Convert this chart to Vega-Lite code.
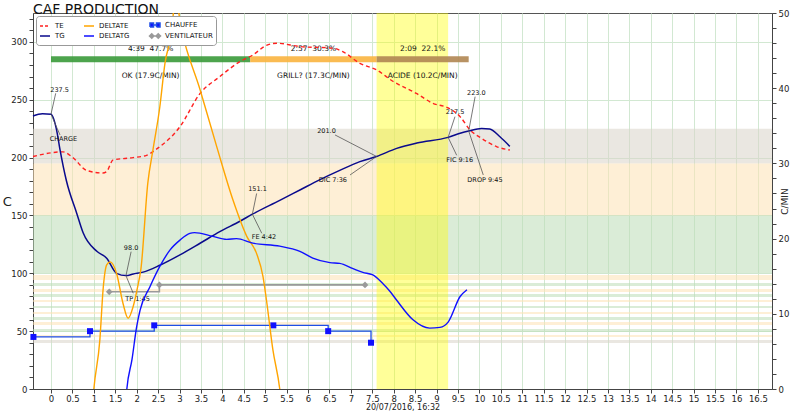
{
  "$schema": "https://vega.github.io/schema/vega-lite/v6.json",
  "width": 739,
  "height": 376,
  "autosize": {"type": "none"},
  "padding": {"left": 33, "top": 13, "right": 28, "bottom": 23},
  "title": {"text": "CAF PRODUCTION", "anchor": "start", "frame": "group", "fontSize": 14, "fontWeight": "normal", "offset": -2, "dy": 6, "color": "#111"},
  "config": {
    "font": "DejaVu Sans",
    "view": {"stroke": "#555"},
    "axis": {"labelFontSize": 8.5, "labelColor": "#222", "domainColor": "#444", "tickColor": "#444", "gridColor": "#d2e8d2", "labelOverlap": false, "labelFlush": false, "titleFontWeight": "normal", "titleColor": "#222"}
  },
  "datasets": {
    "bands": [
      {"lo": 195, "hi": 225, "zone": "high"},
      {"lo": 150, "hi": 195, "zone": "mid"},
      {"lo": 100, "hi": 150, "zone": "low"},
      {"lo": 94.2, "hi": 98.6, "zone": "mid"},
      {"lo": 89, "hi": 91.6, "zone": "low"},
      {"lo": 83.9, "hi": 86.5, "zone": "mid"},
      {"lo": 79.5, "hi": 82.1, "zone": "low"},
      {"lo": 75.2, "hi": 77, "zone": "mid"},
      {"lo": 70, "hi": 71.8, "zone": "low"},
      {"lo": 64.8, "hi": 66.6, "zone": "mid"},
      {"lo": 59.7, "hi": 62.2, "zone": "low"},
      {"lo": 55.3, "hi": 57.9, "zone": "mid"},
      {"lo": 49.3, "hi": 51.9, "zone": "low"},
      {"lo": 45, "hi": 46.7, "zone": "mid"},
      {"lo": 39.8, "hi": 42.4, "zone": "high"}
    ],
    "fc": [{"start": 7.6, "end": 9.27}],
    "phases": [
      {"phase": "OK", "start": 0, "end": 4.65},
      {"phase": "GRILL?", "start": 4.65, "end": 7.6},
      {"phase": "ACIDE", "start": 7.6, "end": 9.75}
    ],
    "phaseLabels": [
      {"time": 2.325, "value": 294, "label": "4:39\u00a0\u00a047.7%"},
      {"time": 2.325, "value": 270.5, "label": "OK (17.9C/MIN)"},
      {"time": 6.125, "value": 294, "label": "2:57\u00a0\u00a030.3%"},
      {"time": 6.125, "value": 270.5, "label": "GRILL? (17.3C/MIN)"},
      {"time": 8.675, "value": 294, "label": "2:09\u00a0\u00a022.1%"},
      {"time": 8.675, "value": 270.5, "label": "ACIDE (10.2C/MIN)"}
    ],
    "heater": [
      {"series": "CHAUFFE", "time": -0.41, "value": 45},
      {"series": "CHAUFFE", "time": 0.91, "value": 50},
      {"series": "CHAUFFE", "time": 2.41, "value": 55},
      {"series": "CHAUFFE", "time": 5.19, "value": 55},
      {"series": "CHAUFFE", "time": 6.47, "value": 50},
      {"series": "CHAUFFE", "time": 7.47, "value": 40}
    ],
    "fan": [
      {"series": "VENTILATEUR", "time": 1.36, "value": 84},
      {"series": "VENTILATEUR", "time": 2.53, "value": 90},
      {"series": "VENTILATEUR", "time": 7.33, "value": 90}
    ],
    "et": [
      {"series": "TE", "time": -0.42, "value": 201},
      {"series": "TE", "time": 0.28, "value": 205},
      {"series": "TE", "time": 0.51, "value": 200},
      {"series": "TE", "time": 0.83, "value": 189},
      {"series": "TE", "time": 1.21, "value": 186.7},
      {"series": "TE", "time": 1.3, "value": 188},
      {"series": "TE", "time": 1.45, "value": 198},
      {"series": "TE", "time": 1.92, "value": 200},
      {"series": "TE", "time": 2.23, "value": 202},
      {"series": "TE", "time": 2.45, "value": 207},
      {"series": "TE", "time": 3.01, "value": 226.7},
      {"series": "TE", "time": 3.48, "value": 255.5},
      {"series": "TE", "time": 3.94, "value": 270},
      {"series": "TE", "time": 4.41, "value": 283},
      {"series": "TE", "time": 4.71, "value": 288.7},
      {"series": "TE", "time": 5.03, "value": 297},
      {"series": "TE", "time": 5.27, "value": 298.9},
      {"series": "TE", "time": 5.81, "value": 296},
      {"series": "TE", "time": 6.58, "value": 294.6},
      {"series": "TE", "time": 6.81, "value": 291.6},
      {"series": "TE", "time": 7.21, "value": 281.5},
      {"series": "TE", "time": 7.6, "value": 275.8},
      {"series": "TE", "time": 7.98, "value": 266},
      {"series": "TE", "time": 8.53, "value": 255.5},
      {"series": "TE", "time": 8.91, "value": 247},
      {"series": "TE", "time": 9.27, "value": 243},
      {"series": "TE", "time": 9.55, "value": 235.4},
      {"series": "TE", "time": 9.78, "value": 224},
      {"series": "TE", "time": 10.05, "value": 216.7},
      {"series": "TE", "time": 10.4, "value": 209.5},
      {"series": "TE", "time": 10.71, "value": 206.6}
    ],
    "bt": [
      {"series": "TG", "time": -0.42, "value": 236},
      {"series": "TG", "time": -0.2, "value": 238},
      {"series": "TG", "time": 0, "value": 237.5},
      {"series": "TG", "time": 0.13, "value": 224},
      {"series": "TG", "time": 0.21, "value": 207},
      {"series": "TG", "time": 0.36, "value": 180},
      {"series": "TG", "time": 0.6, "value": 152},
      {"series": "TG", "time": 0.75, "value": 135},
      {"series": "TG", "time": 1.07, "value": 119},
      {"series": "TG", "time": 1.3, "value": 113},
      {"series": "TG", "time": 1.53, "value": 100},
      {"series": "TG", "time": 1.75, "value": 98},
      {"series": "TG", "time": 1.92, "value": 99.4},
      {"series": "TG", "time": 2.15, "value": 101},
      {"series": "TG", "time": 2.54, "value": 107},
      {"series": "TG", "time": 3.01, "value": 116},
      {"series": "TG", "time": 3.48, "value": 126},
      {"series": "TG", "time": 3.94, "value": 136},
      {"series": "TG", "time": 4.41, "value": 145},
      {"series": "TG", "time": 4.7, "value": 151.1},
      {"series": "TG", "time": 5.34, "value": 163},
      {"series": "TG", "time": 5.81, "value": 172},
      {"series": "TG", "time": 6.28, "value": 181},
      {"series": "TG", "time": 6.74, "value": 189},
      {"series": "TG", "time": 7.21, "value": 196.5},
      {"series": "TG", "time": 7.6, "value": 201},
      {"series": "TG", "time": 8.07, "value": 208},
      {"series": "TG", "time": 8.54, "value": 212.6},
      {"series": "TG", "time": 9.27, "value": 217.5},
      {"series": "TG", "time": 9.55, "value": 221},
      {"series": "TG", "time": 9.75, "value": 223},
      {"series": "TG", "time": 10.05, "value": 225.2},
      {"series": "TG", "time": 10.24, "value": 224.7},
      {"series": "TG", "time": 10.48, "value": 218},
      {"series": "TG", "time": 10.71, "value": 209.7}
    ],
    "leaders": [
      {"time": 0.11, "value": 255.6, "time2": 0, "value2": 237.5},
      {"time": 0, "value": 237.5, "time2": 0.21, "value2": 219.6},
      {"time": 1.87, "value": 118.7, "time2": 1.75, "value2": 98},
      {"time": 1.75, "value": 98, "time2": 1.92, "value2": 82.7},
      {"time": 4.8, "value": 169, "time2": 4.7, "value2": 151.1},
      {"time": 4.7, "value": 151.1, "time2": 4.92, "value2": 134.6},
      {"time": 6.63, "value": 219.6, "time2": 7.6, "value2": 201},
      {"time": 7.6, "value": 201, "time2": 6.98, "value2": 185},
      {"time": 9.43, "value": 235.4, "time2": 9.27, "value2": 217.5},
      {"time": 9.27, "value": 217.5, "time2": 9.47, "value2": 202},
      {"time": 9.9, "value": 252.7, "time2": 9.75, "value2": 223},
      {"time": 9.75, "value": 223, "time2": 10.09, "value2": 185}
    ],
    "notes": [
      {"time": 0.2, "value": 258.5, "label": "237.5"},
      {"time": 0.29, "value": 216, "label": "CHARGE"},
      {"time": 1.87, "value": 121.5, "label": "98.0"},
      {"time": 2.02, "value": 78, "label": "TP 1:45"},
      {"time": 4.82, "value": 173, "label": "151.1"},
      {"time": 4.97, "value": 131, "label": "FE 4:42"},
      {"time": 6.43, "value": 223, "label": "201.0"},
      {"time": 6.58, "value": 180.7, "label": "DIC 7:36"},
      {"time": 9.43, "value": 239, "label": "217.5"},
      {"time": 9.54, "value": 198, "label": "FIC 9:16"},
      {"time": 9.93, "value": 255.6, "label": "223.0"},
      {"time": 10.13, "value": 181, "label": "DROP 9:45"}
    ],
    "det": [
      {"series": "DELTATE", "time": 0.97, "value": -2},
      {"series": "DELTATE", "time": 1.0, "value": 0},
      {"series": "DELTATE", "time": 1.14, "value": 6.5},
      {"series": "DELTATE", "time": 1.22, "value": 13.5},
      {"series": "DELTATE", "time": 1.3, "value": 16.5},
      {"series": "DELTATE", "time": 1.38, "value": 16.9},
      {"series": "DELTATE", "time": 1.53, "value": 15.4},
      {"series": "DELTATE", "time": 1.68, "value": 11.4},
      {"series": "DELTATE", "time": 1.8, "value": 9.4},
      {"series": "DELTATE", "time": 1.92, "value": 11},
      {"series": "DELTATE", "time": 2.02, "value": 13.5},
      {"series": "DELTATE", "time": 2.1, "value": 16},
      {"series": "DELTATE", "time": 2.26, "value": 27.4},
      {"series": "DELTATE", "time": 2.38, "value": 31.8},
      {"series": "DELTATE", "time": 2.54, "value": 37.5},
      {"series": "DELTATE", "time": 2.66, "value": 43.3},
      {"series": "DELTATE", "time": 2.82, "value": 47.7},
      {"series": "DELTATE", "time": 2.9, "value": 52},
      {"series": "DELTATE", "time": 3.05, "value": 47.7},
      {"series": "DELTATE", "time": 3.48, "value": 39.8},
      {"series": "DELTATE", "time": 3.87, "value": 32.2},
      {"series": "DELTATE", "time": 4.25, "value": 25.1},
      {"series": "DELTATE", "time": 4.57, "value": 20.3},
      {"series": "DELTATE", "time": 4.8, "value": 18},
      {"series": "DELTATE", "time": 4.95, "value": 14.9},
      {"series": "DELTATE", "time": 5.03, "value": 11.8},
      {"series": "DELTATE", "time": 5.18, "value": 5.2},
      {"series": "DELTATE", "time": 5.34, "value": 0},
      {"series": "DELTATE", "time": 5.38, "value": -2}
    ],
    "dbt": [
      {"series": "DELTATG", "time": 1.74, "value": -2},
      {"series": "DELTATG", "time": 1.77, "value": 0},
      {"series": "DELTATG", "time": 1.89, "value": 3.9},
      {"series": "DELTATG", "time": 2.0, "value": 8.3},
      {"series": "DELTATG", "time": 2.08, "value": 10.5},
      {"series": "DELTATG", "time": 2.31, "value": 13.6},
      {"series": "DELTATG", "time": 2.54, "value": 16.3},
      {"series": "DELTATG", "time": 2.78, "value": 18.5},
      {"series": "DELTATG", "time": 3.01, "value": 19.8},
      {"series": "DELTATG", "time": 3.24, "value": 20.7},
      {"series": "DELTATG", "time": 3.35, "value": 20.8},
      {"series": "DELTATG", "time": 3.78, "value": 20.3},
      {"series": "DELTATG", "time": 4.1, "value": 19.9},
      {"series": "DELTATG", "time": 4.33, "value": 20.0},
      {"series": "DELTATG", "time": 4.71, "value": 19.4},
      {"series": "DELTATG", "time": 5.34, "value": 19.0},
      {"series": "DELTATG", "time": 5.81, "value": 18.3},
      {"series": "DELTATG", "time": 6.11, "value": 17.4},
      {"series": "DELTATG", "time": 6.51, "value": 16.8},
      {"series": "DELTATG", "time": 6.74, "value": 16.7},
      {"series": "DELTATG", "time": 7.05, "value": 16.0},
      {"series": "DELTATG", "time": 7.28, "value": 15.5},
      {"series": "DELTATG", "time": 7.5, "value": 15.2},
      {"series": "DELTATG", "time": 7.75, "value": 14.0},
      {"series": "DELTATG", "time": 7.91, "value": 13.0},
      {"series": "DELTATG", "time": 8.07, "value": 11.8},
      {"series": "DELTATG", "time": 8.45, "value": 9.2},
      {"series": "DELTATG", "time": 8.84, "value": 8.1},
      {"series": "DELTATG", "time": 9.08, "value": 8.2},
      {"series": "DELTATG", "time": 9.27, "value": 8.9},
      {"series": "DELTATG", "time": 9.55, "value": 12.3},
      {"series": "DELTATG", "time": 9.71, "value": 13.2}
    ]
  },
  "layer": [
    {
      "layer": [
        {
          "data": {"name": "bands"},
          "mark": {"type": "rect", "opacity": 0.55},
          "encoding": {
            "y": {"field": "lo", "type": "quantitative", "title": "C",
              "scale": {"domain": [0, 325], "nice": false, "zero": false},
              "axis": {
                "values": [0,10,20,30,40,50,60,70,80,90,100,110,120,130,140,150,160,170,180,190,200,210,220,230,240,250,260,270,280,290,300,310,320],
                "tickCount": 200,
                "format": "~g",
                "labelExpr": "datum.value % 50 === 0 ? datum.label : ''",
                "labelOverlap": false,
                "tickSize": 4,
                "grid": true,
                "gridOpacity": {"condition": {"test": "datum.value % 50 === 0", "value": 1}, "value": 0},
                "titleAngle": 0, "titleFontSize": 13, "titlePadding": 4, "titleAlign": "center", "titleBaseline": "middle"
              }
            },
            "y2": {"field": "hi"},
            "fill": {"field": "zone", "type": "nominal", "legend": null,
              "scale": {"domain": ["high", "mid", "low"], "range": ["#d9d3c9", "#fde1b4", "#bcdcb6"]}}
          }
        },
        {
          "data": {"name": "fc"},
          "mark": {"type": "rect", "color": "#ffff00", "opacity": 0.4},
          "encoding": {
            "x": {"field": "start", "type": "quantitative", "title": "20/07/2016, 16:32",
              "scale": {"domain": [-0.42, 16.83], "nice": false, "zero": false},
              "axis": {
                "values": [0,0.5,1,1.5,2,2.5,3,3.5,4,4.5,5,5.5,6,6.5,7,7.5,8,8.5,9,9.5,10,10.5,11,11.5,12,12.5,13,13.5,14,14.5,15,15.5,16,16.5],
                "tickCount": 200,
                "format": "~g", "grid": true, "tickSize": 4, "labelPadding": 1, "titlePadding": 1, "titleFontSize": 8, "labelOverlap": false
              }
            },
            "x2": {"field": "end"}
          }
        },
        {
          "data": {"name": "phases"},
          "mark": {"type": "rule", "strokeWidth": 6, "opacity": 0.9},
          "encoding": {
            "x": {"field": "start", "type": "quantitative", "title": "20/07/2016, 16:32"},
            "x2": {"field": "end"},
            "y": {"datum": 285, "type": "quantitative", "title": "C"},
            "stroke": {"field": "phase", "type": "nominal", "legend": null,
              "scale": {"domain": ["OK", "GRILL?", "ACIDE"], "range": ["#3a9a3a", "#f9b43f", "#b08652"]}}
          }
        },
        {
          "data": {"name": "phaseLabels"},
          "mark": {"type": "text", "fontSize": 7.5, "color": "#111", "baseline": "middle"},
          "encoding": {
            "x": {"field": "time", "type": "quantitative", "title": "20/07/2016, 16:32"},
            "y": {"field": "value", "type": "quantitative", "title": "C"},
            "text": {"field": "label"}
          }
        },
        {
          "data": {"name": "heater"},
          "mark": {"type": "line", "interpolate": "step-after", "strokeWidth": 1.3},
          "encoding": {
            "x": {"field": "time", "type": "quantitative", "title": "20/07/2016, 16:32"},
            "y": {"field": "value", "type": "quantitative", "title": "C"},
            "color": {"field": "series", "type": "nominal",
              "scale": {"domain": ["TE", "TG", "DELTATE", "DELTATG", "CHAUFFE", "VENTILATEUR"], "range": ["#ff2020", "#0a0a8c", "#ffa500", "#1010ff", "#1e4ee6", "#9a9a9a"]},
              "legend": {
                "orient": "top-left", "offset": 3, "columns": 3, "title": null,
                "symbolType": "stroke", "symbolSize": 100, "symbolStrokeWidth": 1.5,
                "labelFontSize": 7, "labelColor": "#111", "rowPadding": 0, "columnPadding": 16,
                "padding": 3, "fillColor": "white", "strokeColor": "#999", "cornerRadius": 3, "labelLimit": 90,
                "encode": {"symbols": {"update": {
                  "strokeDash": {"signal": "datum.value === 'TE' ? [3, 2] : [1, 0]"},
                  "shape": {"signal": "datum.value === 'CHAUFFE' ? 'M-1,-0.4H-0.3V0.4H-1Z M0.3,-0.4H1V0.4H0.3Z M-0.3,0H0.3' : datum.value === 'VENTILATEUR' ? 'M-0.65,-0.45L-0.2,0L-0.65,0.45L-1.1,0Z M0.65,-0.45L1.1,0L0.65,0.45L0.2,0Z M-0.2,0H0.2' : 'stroke'"},
                  "fill": {"signal": "datum.value === 'CHAUFFE' ? '#1010ff' : datum.value === 'VENTILATEUR' ? '#9a9a9a' : 'transparent'"}
                }}}
              }
            }
          }
        },
        {
          "data": {"name": "heater"},
          "mark": {"type": "point", "shape": "square", "filled": true, "size": 36, "color": "#1010ff", "opacity": 1},
          "encoding": {
            "x": {"field": "time", "type": "quantitative", "title": "20/07/2016, 16:32"},
            "y": {"field": "value", "type": "quantitative", "title": "C"}
          }
        },
        {
          "data": {"name": "fan"},
          "mark": {"type": "line", "interpolate": "step-after", "strokeWidth": 1.6},
          "encoding": {
            "x": {"field": "time", "type": "quantitative", "title": "20/07/2016, 16:32"},
            "y": {"field": "value", "type": "quantitative", "title": "C"},
            "color": {"field": "series", "type": "nominal"}
          }
        },
        {
          "data": {"name": "fan"},
          "mark": {"type": "point", "shape": "diamond", "filled": true, "size": 45, "color": "#9a9a9a", "opacity": 1},
          "encoding": {
            "x": {"field": "time", "type": "quantitative", "title": "20/07/2016, 16:32"},
            "y": {"field": "value", "type": "quantitative", "title": "C"}
          }
        },
        {
          "data": {"name": "et"},
          "mark": {"type": "line", "interpolate": "monotone", "strokeWidth": 1.4, "strokeDash": [4, 3]},
          "encoding": {
            "x": {"field": "time", "type": "quantitative", "title": "20/07/2016, 16:32"},
            "y": {"field": "value", "type": "quantitative", "title": "C"},
            "color": {"field": "series", "type": "nominal"}
          }
        },
        {
          "data": {"name": "bt"},
          "mark": {"type": "line", "interpolate": "monotone", "strokeWidth": 1.5},
          "encoding": {
            "x": {"field": "time", "type": "quantitative", "title": "20/07/2016, 16:32"},
            "y": {"field": "value", "type": "quantitative", "title": "C"},
            "color": {"field": "series", "type": "nominal"}
          }
        },
        {
          "data": {"name": "leaders"},
          "mark": {"type": "rule", "color": "#555", "strokeWidth": 0.8},
          "encoding": {
            "x": {"field": "time", "type": "quantitative", "title": "20/07/2016, 16:32"},
            "y": {"field": "value", "type": "quantitative", "title": "C"},
            "x2": {"field": "time2"},
            "y2": {"field": "value2"}
          }
        },
        {
          "data": {"name": "notes"},
          "mark": {"type": "text", "fontSize": 6.5, "color": "#111", "baseline": "middle"},
          "encoding": {
            "x": {"field": "time", "type": "quantitative", "title": "20/07/2016, 16:32"},
            "y": {"field": "value", "type": "quantitative", "title": "C"},
            "text": {"field": "label"}
          }
        }
      ]
    },
    {
      "layer": [
        {
          "data": {"name": "det"},
          "mark": {"type": "line", "interpolate": "monotone", "strokeWidth": 1.4, "clip": true},
          "encoding": {
            "x": {"field": "time", "type": "quantitative", "title": "20/07/2016, 16:32"},
            "y": {"field": "value", "type": "quantitative", "title": "C/MIN",
              "scale": {"domain": [0, 50], "nice": false, "zero": false},
              "axis": {
                "orient": "right",
                "values": [0,2,4,6,8,10,12,14,16,18,20,22,24,26,28,30,32,34,36,38,40,42,44,46,48,50],
                "tickCount": 200,
                "format": "~g",
                "labelExpr": "datum.value % 10 === 0 ? datum.label : ''",
                "labelOverlap": false,
                "tickSize": 4, "grid": false, "labelPadding": 2,
                "titleAngle": 270, "titleFontSize": 9, "titlePadding": 1
              }
            },
            "color": {"field": "series", "type": "nominal"}
          }
        },
        {
          "data": {"name": "dbt"},
          "mark": {"type": "line", "interpolate": "monotone", "strokeWidth": 1.4, "clip": true},
          "encoding": {
            "x": {"field": "time", "type": "quantitative", "title": "20/07/2016, 16:32"},
            "y": {"field": "value", "type": "quantitative", "title": "C/MIN"},
            "color": {"field": "series", "type": "nominal"}
          }
        }
      ]
    }
  ],
  "resolve": {"scale": {"y": "independent"}}
}
